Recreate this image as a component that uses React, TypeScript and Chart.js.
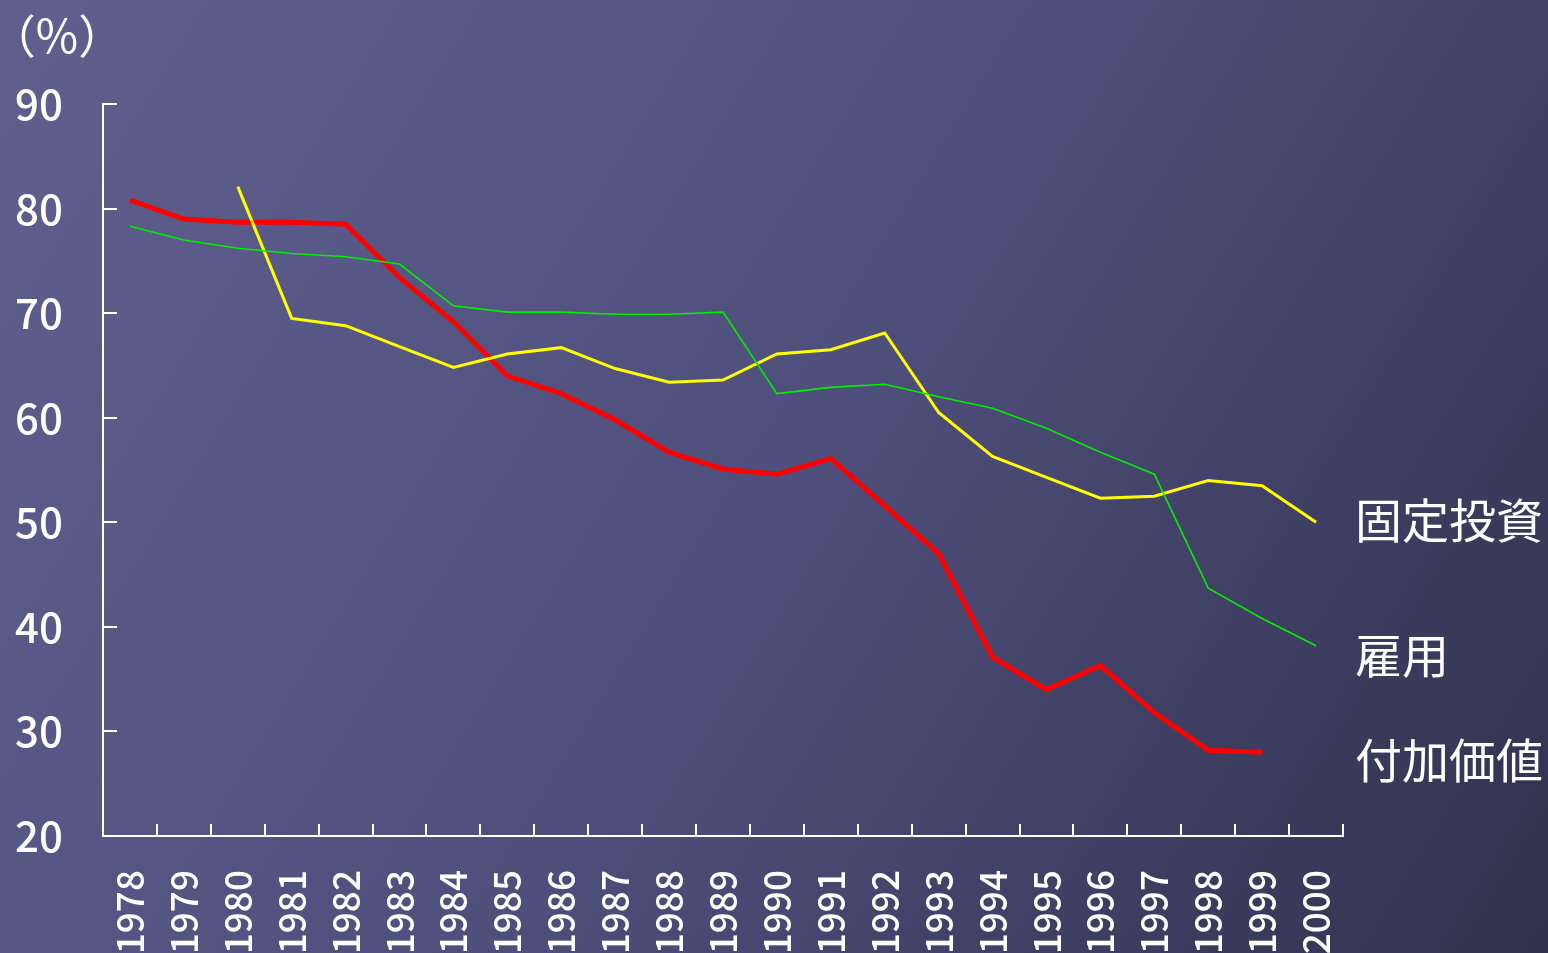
import React, { useEffect, useRef } from "react";
import { Chart, registerables } from "chart.js";

Chart.register(...registerables);

const years = [
  "1978", "1979", "1980", "1981", "1982", "1983", "1984", "1985", "1986", "1987", "1988",
  "1989", "1990", "1991", "1992", "1993", "1994", "1995", "1996", "1997", "1998", "1999", "2000",
];

// 付加価値 (red)
const valueAdded = [
  80.8, 79.0, 78.7, 78.7, 78.5, 73.4, 69.2, 64.0, 62.3, 59.8, 56.7,
  55.1, 54.6, 56.1, 51.6, 47.0, 37.1, 34.0, 36.3, 31.8, 28.2, 28.0, null,
];

// 固定投資 (yellow)
const fixedInvestment = [
  null, null, 82.1, 69.5, 68.8, 66.8, 64.8, 66.1, 66.7, 64.7, 63.4,
  63.6, 66.1, 66.5, 68.1, 60.5, 56.3, 54.3, 52.3, 52.5, 54.0, 53.5, 50.0,
];

// 雇用 (green)
const employment = [
  78.3, 77.0, 76.2, 75.7, 75.4, 74.7, 70.7, 70.1, 70.1, 69.9, 69.9,
  70.1, 62.3, 62.9, 63.2, 62.0, 60.9, 59.0, 56.7, 54.6, 43.7, 40.8, 38.2,
];

const seriesNames = ["固定投資", "雇用", "付加価値"];
const seriesLabelLevels = [50.2, 37.3, 27.3];
const unitLabel = "（%）";

const FONT = "'Noto Sans CJK JP', 'Noto Sans', sans-serif";

const backgroundPlugin = {
  id: "bg",
  beforeDraw(chart: any) {
    const { ctx, width, height } = chart;
    ctx.save();
    const g = ctx.createLinearGradient(0, 0, width, height);
    g.addColorStop(0, "#60608f");
    g.addColorStop(0.5, "#4f4f7c");
    g.addColorStop(1, "#31314d");
    ctx.fillStyle = g;
    ctx.fillRect(0, 0, width, height);
    ctx.restore();
  },
};

const decorPlugin = {
  id: "decor",
  afterDraw(chart: any) {
    const { ctx, chartArea } = chart;
    const x = chart.scales.x;
    const y = chart.scales.y;
    ctx.save();
    ctx.strokeStyle = "#ffffff";
    ctx.lineWidth = 2;
    y.ticks.forEach((t: any) => {
      const py = Math.round(y.getPixelForValue(t.value));
      ctx.beginPath();
      ctx.moveTo(chartArea.left, py);
      ctx.lineTo(chartArea.left + 14, py);
      ctx.stroke();
    });
    for (let i = 1; i <= years.length; i++) {
      let px;
      if (i < years.length) {
        px = (x.getPixelForValue(i - 1) + x.getPixelForValue(i)) / 2;
      } else {
        px = chartArea.right;
      }
      px = Math.round(px);
      ctx.beginPath();
      ctx.moveTo(px, chartArea.bottom);
      ctx.lineTo(px, chartArea.bottom - 12);
      ctx.stroke();
    }
    ctx.fillStyle = "#ffffff";
    ctx.font = `46px ${FONT}`;
    ctx.textAlign = "center";
    ctx.textBaseline = "middle";
    ctx.fillText(unitLabel, 57, 36);
    ctx.font = `47px ${FONT}`;
    ctx.textAlign = "left";
    seriesNames.forEach((n, i) => {
      ctx.fillText(n, chartArea.right + 12, y.getPixelForValue(seriesLabelLevels[i]));
    });
    ctx.restore();
  },
};

export default function App() {
  const ref = useRef<HTMLCanvasElement>(null);
  useEffect(() => {
    if (!ref.current) return;
    const chart = new Chart(ref.current, {
      type: "line",
      data: {
        labels: years,
        datasets: [
          {
            label: "雇用",
            data: employment,
            borderColor: "#00ee00",
            borderWidth: 1.6,
            pointRadius: 0,
            tension: 0,
          },
          {
            label: "固定投資",
            data: fixedInvestment,
            borderColor: "#ffff00",
            borderWidth: 3,
            pointRadius: 0,
            tension: 0,
          },
          {
            label: "付加価値",
            data: valueAdded,
            borderColor: "#ff0000",
            borderWidth: 5,
            pointRadius: 0,
            tension: 0,
          },
        ],
      },
      options: {
        responsive: false,
        animation: false,
        layout: { padding: { left: 0, right: 205, top: 104, bottom: 0 } },
        plugins: { legend: { display: false }, tooltip: { enabled: false } },
        scales: {
          x: {
            type: "category",
            offset: true,
            grid: { display: false, drawTicks: false },
            border: { display: true, color: "#ffffff", width: 2 },
            ticks: {
              color: "#ffffff",
              font: { family: FONT, size: 37, weight: "500" },
              maxRotation: 90,
              minRotation: 90,
              autoSkip: false,
              padding: 34,
            },
            afterFit(scale: any) {
              scale.height = 117;
            },
          },
          y: {
            min: 20,
            max: 90,
            grid: { display: false, drawTicks: false },
            border: { display: true, color: "#ffffff", width: 2 },
            ticks: {
              stepSize: 10,
              color: "#ffffff",
              font: { family: FONT, size: 42, weight: "500" },
              padding: 40,
            },
            afterFit(scale: any) {
              scale.width = 103;
            },
          },
        },
      },
      plugins: [backgroundPlugin, decorPlugin],
    });
    return () => chart.destroy();
  }, []);
  return (
    <div style={{ position: "fixed", left: 0, top: 0, width: 1548, height: 953 }}>
      <canvas ref={ref} width={1548} height={953} style={{ display: "block" }} />
    </div>
  );
}
